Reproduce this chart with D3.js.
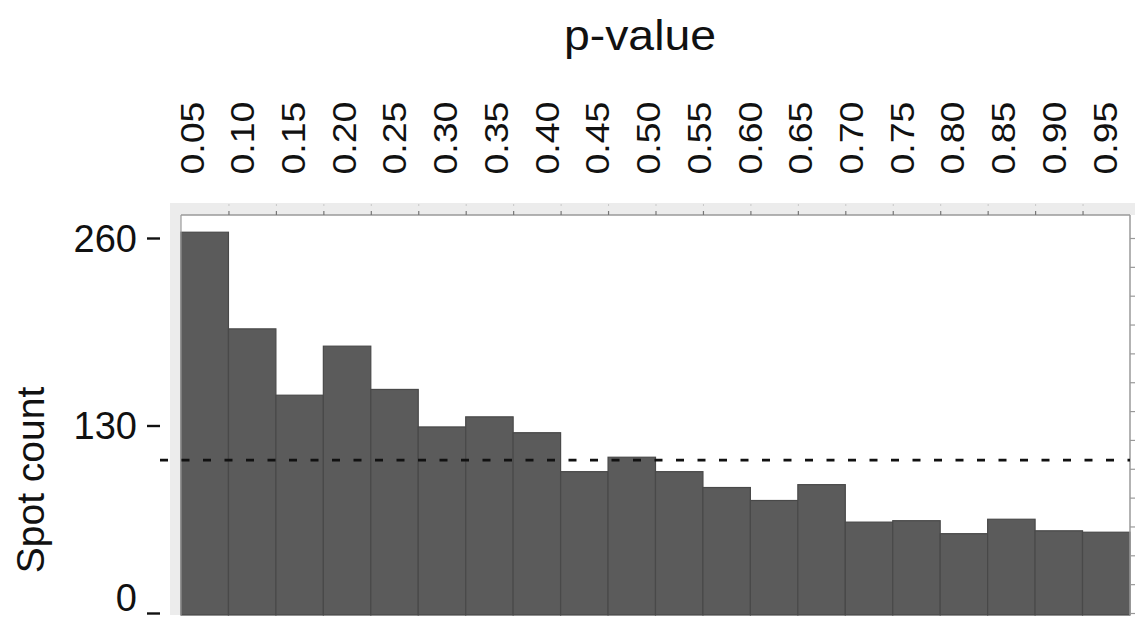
<!DOCTYPE html>
<html>
<head>
<meta charset="utf-8">
<script src="https://cdn.jsdelivr.net/npm/d3@7"></script>
<style>
  html, body { margin: 0; padding: 0; background: #fff; }
  svg { display: block; font-family: "Liberation Sans", Arial, Helvetica, sans-serif; }
</style>
</head>
<body>
<svg id="chart" width="1142" height="620"></svg>
<script>
// ---- data ----
const binStarts = [0.00,0.05,0.10,0.15,0.20,0.25,0.30,0.35,0.40,0.45,0.50,0.55,0.60,0.65,0.70,0.75,0.80,0.85,0.90,0.95];
const binWidth = 0.05;
const counts = [264,197,151,185,155,129,136,125,98,108,98,87,78,89,63,64,55,65,57,56];
const topTickLabels = ["0.05","0.10","0.15","0.20","0.25","0.30","0.35","0.40","0.45","0.50","0.55","0.60","0.65","0.70","0.75","0.80","0.85","0.90","0.95"];
const yTickValues = [0,130,260];
const referenceLine = 106;
const xTitle = "p-value";
const yTitle = "Spot count";

// ---- layout ----
const plot = {left: 181, right: 1130, top: 215, bottom: 615};
const svg = d3.select("#chart");

const x = d3.scaleLinear().domain([0, 1]).range([plot.left, plot.right]);
const y = d3.scaleLinear().domain([0, 260]).range([613, 238]);
// label positions (labels are spaced slightly wider than the bins in the reference)
const xLab = d3.scalePoint().domain(topTickLabels).range([192, 1105]);

// gray frame bands
svg.append("rect").attr("x", 170).attr("y", 203).attr("width", 965).attr("height", 12).attr("fill", "#ececec");
svg.append("rect").attr("x", 170).attr("y", 203).attr("width", 11).attr("height", plot.bottom - 203).attr("fill", "#ececec");

// bars
svg.append("g").selectAll("rect").data(counts).join("rect")
  .attr("x", (d, i) => x(binStarts[i]))
  .attr("width", (d, i) => x(binStarts[i] + binWidth) - x(binStarts[i]))
  .attr("y", d => y(d))
  .attr("height", d => plot.bottom - y(d))
  .attr("fill", "#5b5b5b")
  .attr("stroke", "#494949")
  .attr("stroke-width", 1.2);

// frame lines
svg.append("line").attr("x1", plot.left).attr("x2", plot.right).attr("y1", plot.top).attr("y2", plot.top)
  .attr("stroke", "#9a9a9a").attr("stroke-width", 1.5);
svg.append("line").attr("x1", plot.left).attr("x2", plot.left).attr("y1", plot.top).attr("y2", plot.bottom)
  .attr("stroke", "#9a9a9a").attr("stroke-width", 1.2);
svg.append("line").attr("x1", plot.right).attr("x2", plot.right).attr("y1", plot.top).attr("y2", plot.bottom)
  .attr("stroke", "#9a9a9a").attr("stroke-width", 1.5);

// top ticks at bin boundaries
const topAxis = d3.axisTop(x).tickValues(binStarts.slice(1)).tickSize(4).tickFormat("");
const gt = svg.append("g").attr("transform", `translate(0,${plot.top})`).call(topAxis);
gt.select(".domain").remove();
gt.selectAll("line").attr("stroke", "#777").attr("stroke-width", 1.2);
// faint ticks in the band
const topAxis2 = d3.axisTop(x).tickValues(binStarts.slice(1)).tickSize(2).tickFormat("");
const gt2 = svg.append("g").attr("transform", `translate(0,206)`).call(topAxis2);
gt2.select(".domain").remove();
gt2.selectAll("line").attr("stroke", "#c8c8c8").attr("stroke-width", 1);

// right minor ticks
const rightAxis = d3.axisRight(y).tickValues(d3.range(0, 261, 20)).tickSize(5).tickFormat("");
const gr = svg.append("g").attr("transform", `translate(${plot.right},0)`).call(rightAxis);
gr.select(".domain").remove();
gr.selectAll("line").attr("stroke", "#999").attr("stroke-width", 1.2);

// left axis: dash ticks + labels
const leftAxis = d3.axisLeft(y).tickValues(yTickValues).tickSize(13).tickPadding(10).tickFormat(d3.format("d"));
const gl = svg.append("g").attr("transform", `translate(160,0)`).call(leftAxis);
gl.select(".domain").remove();
gl.selectAll("line").attr("stroke", "#111").attr("stroke-width", 2.4);
gl.selectAll("text").attr("font-size", 38).attr("fill", "#111")
  .attr("dy", d => d === 0 ? "-0.06em" : "0.35em")
  .attr("font-family", "'Liberation Sans', Arial, sans-serif");

// top labels (rotated)
svg.append("g").selectAll("text").data(topTickLabels).join("text")
  .attr("transform", d => `translate(${xLab(d)},138) rotate(-90) scale(1,0.87)`)
  .attr("text-anchor", "middle")
  .attr("dominant-baseline", "central")
  .attr("font-size", 37.5)
  .attr("fill", "#111")
  .text(d => d);

// reference dashed line
svg.append("line")
  .attr("x1", 160).attr("x2", plot.right)
  .attr("y1", y(referenceLine)).attr("y2", y(referenceLine))
  .attr("stroke", "#111").attr("stroke-width", 2.6).attr("stroke-dasharray", "8,13.5");

// titles
svg.append("text").attr("x", 640).attr("y", 50).attr("text-anchor", "middle")
  .attr("font-size", 42).attr("fill", "#111")
  .attr("textLength", 152).attr("lengthAdjust", "spacingAndGlyphs")
  .text(xTitle);
svg.append("text").attr("transform", "translate(44,480) rotate(-90)")
  .attr("text-anchor", "middle").attr("font-size", 39).attr("fill", "#111")
  .text(yTitle);
</script>
</body>
</html>
